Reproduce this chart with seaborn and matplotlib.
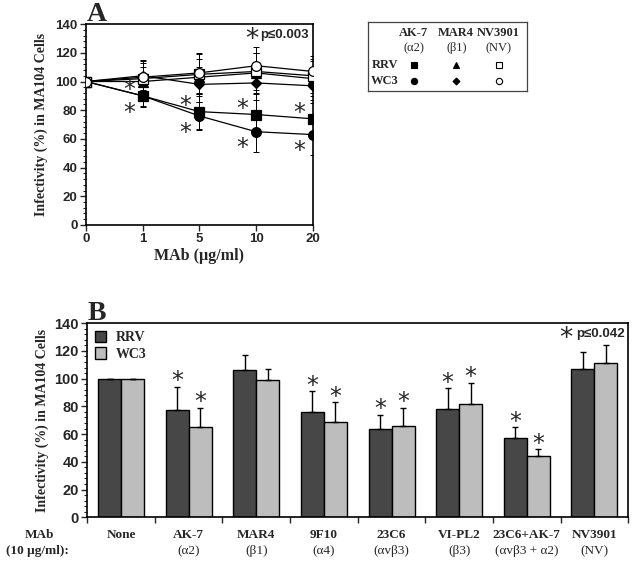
import matplotlib
matplotlib.use("Agg")
import matplotlib.pyplot as plt
import numpy as np
import pandas as pd
import seaborn as sns

sns.set_theme(style="ticks")
plt.rcParams['font.family'] = ['Liberation Sans', 'DejaVu Sans']

# --- Panel A data ---
doses = ["0", "1", "5", "10", "20"]
ak7_rrv = [100, 90, 79, 77, 74]
ak7_wc3 = [100, 90, 76, 65, 63]
mar4_rrv = [100, 100, 103, 106, 102]
mar4_wc3 = [100, 104, 98, 99, 97]
nv_rrv = [100, 102, 105, 107, 104]
nv_wc3 = [100, 103, 106, 111, 107]
ak7_rrv_sd = [0, 7, 12, 14, 13]
ak7_wc3_sd = [0, 8, 10, 14, 14]
mar4_rrv_sd = [0, 10, 13, 14, 12]
mar4_wc3_sd = [0, 10, 12, 12, 12]
nv_rrv_sd = [0, 11, 14, 13, 12]
nv_wc3_sd = [0, 12, 14, 13, 11]

# --- Panel B data ---
mabs = ["None", "AK-7", "MAR4", "9F10", "23C6", "VI-PL2", "23C6+AK-7", "NV3901"]
targets = ["", "(α2)", "(β1)", "(α4)", "(αvβ3)", "(β3)", "(αvβ3 + α2)", "(NV)"]
rrv_vals = [100, 77, 106, 76, 64, 78, 57, 107]
wc3_vals = [100, 65, 99, 69, 66, 82, 44, 111]
rrv_err = [0, 17, 11, 15, 10, 15, 8, 12]
wc3_err = [0, 14, 8, 14, 13, 15, 5, 13]
rrv_star = [False, True, False, True, True, True, True, False]
wc3_star = [False, True, False, True, True, True, True, False]

serif = ['Liberation Serif', 'DejaVu Serif']

fig = plt.figure(figsize=(6.32, 5.61), dpi=100)

# ================= Panel A =================
axA = fig.add_axes([0.136, 0.599, 0.359, 0.358])
xpos = np.arange(len(doses))
series = [
    (ak7_rrv, ak7_rrv_sd, 's', 'black', 7),
    (ak7_wc3, ak7_wc3_sd, 'o', 'black', 7),
    (mar4_rrv, mar4_rrv_sd, '^', 'black', 6.5),
    (mar4_wc3, mar4_wc3_sd, 'D', 'black', 5),
    (nv_rrv, nv_rrv_sd, 's', 'white', 7),
    (nv_wc3, nv_wc3_sd, 'o', 'white', 7),
]
for vals, sd, mk, fc, ms in series:
    axA.errorbar(xpos, vals, yerr=sd, fmt='none', ecolor='black',
                 elinewidth=0.7, capsize=2.5, capthick=0.7, zorder=2)
    sns.lineplot(x=xpos, y=vals, ax=axA, color='black', linewidth=0.9,
                 marker=mk, markersize=ms, markerfacecolor=fc,
                 markeredgecolor='black', markeredgewidth=0.9, zorder=3)

# significance asterisks for AK-7
for i in range(1, len(doses)):
    axA.annotate('*', (xpos[i], ak7_rrv[i]), xytext=(-10, 4), textcoords='offset points',
                 ha='center', va='center', fontsize=17, family='DejaVu Sans')
    axA.annotate('*', (xpos[i], ak7_wc3[i]), xytext=(-10, -12), textcoords='offset points',
                 ha='center', va='center', fontsize=17, family='DejaVu Sans')

axA.text(0.70, 0.985, '*', transform=axA.transAxes, ha='left', va='top',
         fontsize=19, family='DejaVu Sans')
axA.text(0.77, 0.975, 'p≤0.003', transform=axA.transAxes, ha='left', va='top',
         fontsize=9.5, fontweight='bold')

axA.set_xlim(0, 4)
axA.set_ylim(0, 140)
axA.set_xticks(xpos)
axA.set_xticklabels(doses)
axA.set_yticks(range(0, 141, 20))
axA.set_yticks(range(0, 141, 4), minor=True)
axA.tick_params(axis='both', labelsize=9.5, width=1, length=4, pad=2)
axA.tick_params(axis='y', which='minor', length=2, width=0.8)
for lab in axA.get_xticklabels() + axA.get_yticklabels():
    lab.set_fontweight('bold')
for s in axA.spines.values():
    s.set_visible(True)
    s.set_linewidth(1.2)
    s.set_color('black')
axA.set_xlabel('MAb (µg/ml)', family=serif, fontweight='bold', fontsize=11.5, labelpad=2)
axA.set_ylabel('Infectivity (%) in MA104 Cells', family=serif, fontweight='bold',
               fontsize=10, labelpad=5)
fig.text(0.138, 0.962, 'A', family=serif, fontweight='bold', fontsize=20)

# ================= Panel A key =================
axK = fig.add_axes([0.583, 0.838, 0.251, 0.123])
key_cols = ["AK-7\n(α2)", "MAR4\n(β1)", "NV3901\n(NV)"]
key_rows = ["RRV", "WC3"]
key_marks = [[('s', 'black'), ('^', 'black'), ('s', 'white')],
             [('o', 'black'), ('D', 'black'), ('o', 'white')]]
for j, row in enumerate(key_rows):
    for i, col in enumerate(key_cols):
        mk, fc = key_marks[j][i]
        axK.plot(i, j, marker=mk, markersize=4.5 if mk != 'D' else 3.5,
                 markerfacecolor=fc, markeredgecolor='black', markeredgewidth=0.8,
                 linestyle='none')
    axK.text(-0.36, j, row, ha='right', va='center', family=serif,
             fontweight='bold', fontsize=9)
for i, col in enumerate(key_cols):
    first, second = col.split("\n")
    axK.text(i, -1.95, first, ha='center', va='center', family=serif,
             fontweight='bold', fontsize=9)
    axK.text(i, -1.0, second, ha='center', va='center', family=serif, fontsize=9)
axK.set_xlim(-1.07, 2.67)
axK.set_ylim(1.6, -2.6)
axK.set_xticks([])
axK.set_yticks([])
for s in axK.spines.values():
    s.set_linewidth(0.9)
    s.set_color('#444444')

# ================= Panel B =================
axB = fig.add_axes([0.138, 0.078, 0.856, 0.346])
dfB = pd.DataFrame({
    'MAb': mabs * 2,
    'Virus': ['RRV'] * len(mabs) + ['WC3'] * len(mabs),
    'Infectivity': rrv_vals + wc3_vals,
})
sns.barplot(data=dfB, x='MAb', y='Infectivity', hue='Virus', ax=axB,
            palette={'RRV': '#474747', 'WC3': '#bdbdbd'}, errorbar=None,
            width=0.68, edgecolor='black', linewidth=1.0, saturation=1)

bars = axB.containers
for cont, vals, errs, stars in [(bars[0], rrv_vals, rrv_err, rrv_star),
                                (bars[1], wc3_vals, wc3_err, wc3_star)]:
    centers = [p.get_x() + p.get_width() / 2 for p in cont.patches]
    axB.errorbar(centers, vals, yerr=[np.zeros(len(errs)), errs], fmt='none',
                 ecolor='black', elinewidth=1.0, capsize=2.5, capthick=1.0)
    for c, v, e, st in zip(centers, vals, errs, stars):
        if st:
            axB.annotate('*', (c, v + e), xytext=(0, 4), textcoords='offset points',
                         ha='center', va='center', fontsize=17, family='DejaVu Sans')

axB.text(0.872, 0.985, '*', transform=axB.transAxes, ha='left', va='top',
         fontsize=19, family='DejaVu Sans')
axB.text(0.904, 0.975, 'p≤0.042', transform=axB.transAxes, ha='left', va='top',
         fontsize=9.5, fontweight='bold')

axB.set_xlim(-0.5, len(mabs) - 0.5)
axB.set_ylim(0, 140)
axB.set_yticks(range(0, 141, 20))
axB.set_yticks(range(0, 141, 4), minor=True)
axB.set_xticks(np.arange(len(mabs) + 1) - 0.5)
axB.set_xticklabels([])
axB.tick_params(axis='both', labelsize=10.5, width=1, length=4, pad=2)
axB.tick_params(axis='y', which='minor', length=2, width=0.8)
for lab in axB.get_yticklabels():
    lab.set_fontweight('bold')
for s in axB.spines.values():
    s.set_visible(True)
    s.set_linewidth(1.2)
    s.set_color('black')
for i, (m, t) in enumerate(zip(mabs, targets)):
    axB.text(i, -0.09, m, transform=axB.get_xaxis_transform(), ha='center', va='center',
             family=serif, fontweight='bold', fontsize=9.5)
    axB.text(i, -0.175, t, transform=axB.get_xaxis_transform(), ha='center', va='center',
             family=serif, fontsize=9.5)
fig.text(0.063, 0.047, 'MAb', ha='center', va='center',
         family=serif, fontweight='bold', fontsize=9.5)
fig.text(0.059, 0.018, '(10 µg/ml):', ha='center', va='center',
         family=serif, fontweight='bold', fontsize=9.5)
axB.set_xlabel('')
axB.set_ylabel('Infectivity (%) in MA104 Cells', family=serif, fontweight='bold',
               fontsize=10, labelpad=4)
leg = axB.legend(loc='upper left', frameon=False, fontsize=10, handlelength=0.8,
                 handleheight=0.9, borderaxespad=0.15, labelspacing=0.2, handletextpad=0.7)
for txt in leg.get_texts():
    txt.set_family(serif)
    txt.set_fontweight('bold')
fig.text(0.138, 0.430, 'B', family=serif, fontweight='bold', fontsize=20)

fig.savefig('out.png', dpi=100, facecolor='white')
